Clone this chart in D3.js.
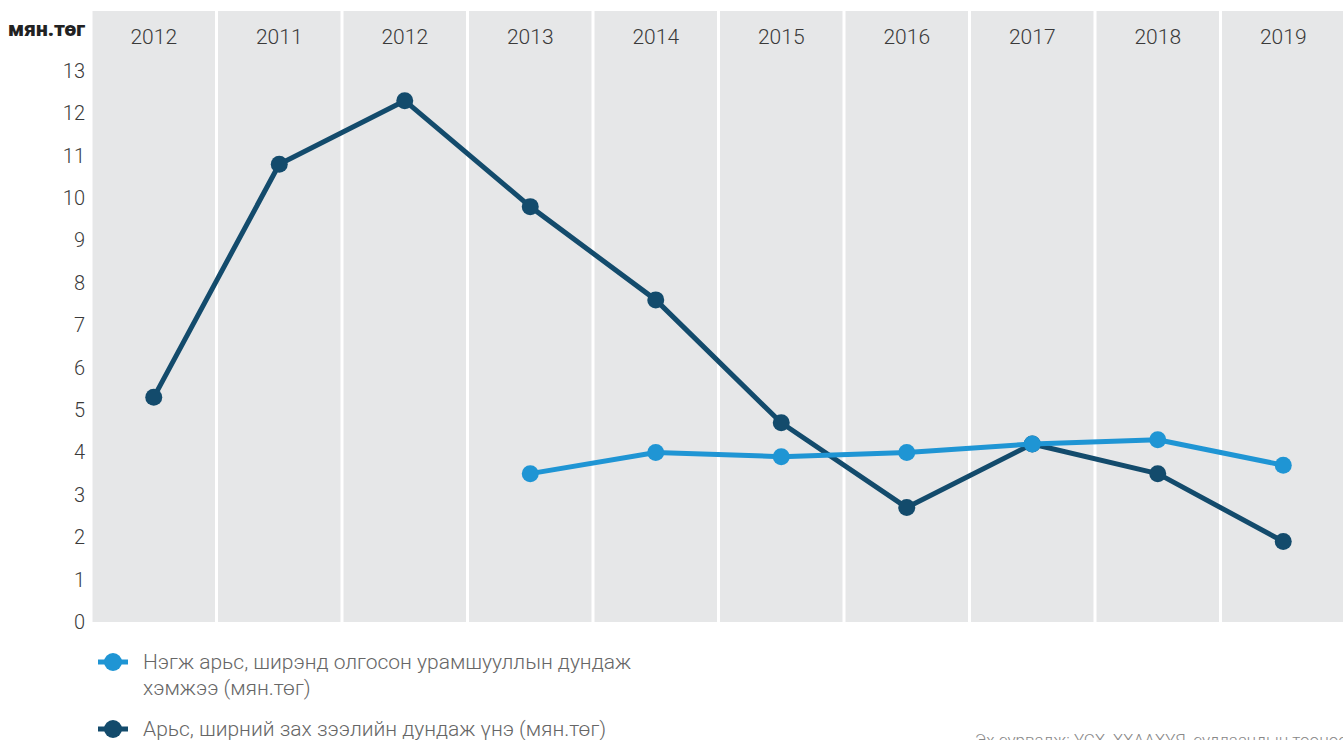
<!DOCTYPE html>
<html>
<head>
<meta charset="utf-8">
<script src="https://cdn.jsdelivr.net/npm/d3@7"></script>
<style>
  body { margin: 0; background: #fff; }
  text { font-family: Roboto, "Noto Sans", sans-serif; }
</style>
</head>
<body>
<svg width="1343" height="740"></svg>
<script>
// data
var years = ["2012", "2011", "2012", "2013", "2014", "2015", "2016", "2017", "2018", "2019"];
var incentive = [null, null, null, 3.5, 4.0, 3.9, 4.0, 4.2, 4.3, 3.7];
var marketPrice = [5.3, 10.8, 12.3, 9.8, 7.6, 4.7, 2.7, 4.2, 3.5, 1.9];
var yTicks = [0, 1, 2, 3, 4, 5, 6, 7, 8, 9, 10, 11, 12, 13];
var seriesNames = ["Нэгж арьс, ширэнд олгосон урамшууллын дундаж", "хэмжээ (мян.төг)", "Арьс, ширний зах зээлийн дундаж үнэ (мян.төг)"];

var svg = d3.select("svg");
var lightBlue = "#1f95d4";
var darkBlue = "#134b6c";

var x = d3.scaleBand()
  .domain(d3.range(years.length))
  .range([91, 1346])
  .paddingInner(0.024)
  .paddingOuter(0.012);

var y = d3.scaleLinear().domain([0, 13]).range([622, 71]);

// background bands
svg.append("g").selectAll("rect")
  .data(years)
  .enter()
  .append("rect")
  .attr("x", function(d, i) { return x(i); })
  .attr("y", 11)
  .attr("width", x.bandwidth())
  .attr("height", y(0) - 11)
  .attr("fill", "#e6e7e8");

// year labels
svg.append("g").selectAll("text")
  .data(years)
  .enter()
  .append("text")
  .attr("x", function(d, i) { return x(i) + x.bandwidth() / 2; })
  .attr("y", 44)
  .attr("text-anchor", "middle")
  .attr("font-size", 21)
  .attr("font-weight", 300)
  .attr("fill", "#3a3a3a")
  .text(function(d) { return d; });

// y axis
var yAxis = svg.append("g")
  .attr("transform", "translate(85,0)")
  .call(d3.axisLeft(y).tickValues(yTicks).tickSize(0).tickPadding(0));
yAxis.select(".domain").remove();
yAxis.selectAll("text")
  .attr("font-size", 20)
  .attr("font-weight", 300)
  .attr("fill", "#3a3a3a")
  .attr("font-family", "Roboto, sans-serif");

svg.append("text")
  .attr("x", 8)
  .attr("y", 36)
  .attr("font-size", 21)
  .attr("font-weight", 900)
  .attr("fill", "#222")
  .text("мян.төг");

// lines
function cx(i) { return x(i) + x.bandwidth() / 2; }

var line = d3.line()
  .defined(function(d) { return d != null; })
  .x(function(d, i) { return cx(i); })
  .y(function(d) { return y(d); });

function drawSeries(values, color) {
  svg.append("path")
    .datum(values)
    .attr("fill", "none")
    .attr("stroke", color)
    .attr("stroke-width", 5)
    .attr("stroke-linejoin", "round")
    .attr("d", line);

  svg.append("g").selectAll("circle")
    .data(values.map(function(v, i) { return {v: v, i: i}; }).filter(function(d) { return d.v != null; }))
    .enter()
    .append("circle")
    .attr("cx", function(d) { return cx(d.i); })
    .attr("cy", function(d) { return y(d.v); })
    .attr("r", 8.5)
    .attr("fill", color);
}

drawSeries(marketPrice, darkBlue);
drawSeries(incentive, lightBlue);

// legend
function legendMarker(yPos, color) {
  svg.append("line")
    .attr("x1", 98).attr("x2", 128)
    .attr("y1", yPos).attr("y2", yPos)
    .attr("stroke", color).attr("stroke-width", 5);
  svg.append("circle")
    .attr("cx", 113).attr("cy", yPos).attr("r", 9).attr("fill", color);
}
legendMarker(662, lightBlue);
legendMarker(729, darkBlue);

svg.append("text").attr("x", 143).attr("y", 669)
  .attr("font-size", 21).attr("font-weight", 300).attr("fill", "#666")
  .text(seriesNames[0]);
svg.append("text").attr("x", 143).attr("y", 695)
  .attr("font-size", 21).attr("font-weight", 300).attr("fill", "#666")
  .text(seriesNames[1]);
svg.append("text").attr("x", 143).attr("y", 736)
  .attr("font-size", 21).attr("font-weight", 300).attr("fill", "#666")
  .text(seriesNames[2]);

svg.append("text").attr("x", 975).attr("y", 746)
  .attr("font-size", 17).attr("font-weight", 300).attr("fill", "#888")
  .text("Эх сурвалж: ҮСХ, ХХААХҮЯ, судлаачдын тооцоо");
</script>
</body>
</html>
